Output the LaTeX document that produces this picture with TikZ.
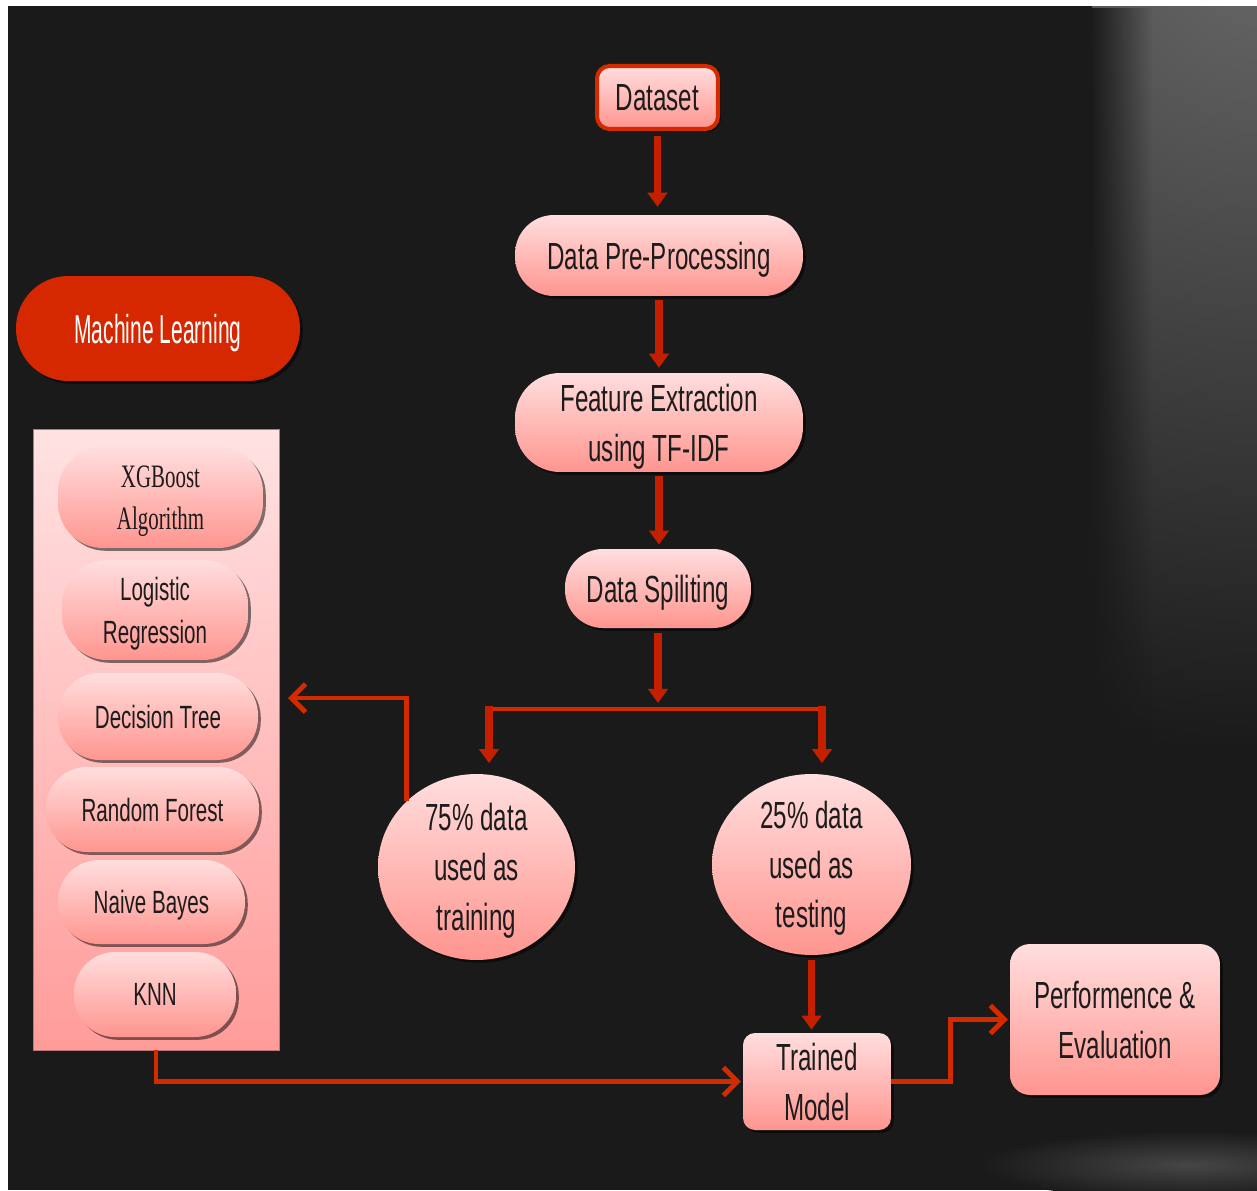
\documentclass[tikz,border=0pt]{standalone}
\usepackage{fontspec}
\setmainfont{Liberation Sans}[FakeStretch=0.64]
\newfontfamily\mlfont{Liberation Sans}[FakeStretch=0.52]
\newfontfamily\xgbfont{Liberation Serif}[FakeStretch=0.64]
\usetikzlibrary{arrows.meta,shadows,fadings,shapes.geometric}
\definecolor{bgc}{HTML}{1A1A1A}
\definecolor{arrowc}{HTML}{C42000}
\definecolor{linec}{HTML}{D42A00}
\definecolor{mlred}{HTML}{D62800}
\definecolor{pinktop}{HTML}{FFDEDE}
\definecolor{pinkbot}{HTML}{FF958F}
\definecolor{paneltop}{HTML}{FFE2E2}
\definecolor{panelbot}{HTML}{FF9C9A}
\definecolor{paneledge}{HTML}{B87878}
\definecolor{txt}{HTML}{1C1C1C}
\definecolor{spot}{HTML}{676767}
\definecolor{spotb}{HTML}{464646}
\tikzfading[name=fadeoutright, left color=transparent!0, right color=transparent!100]
\begin{document}
\begin{tikzpicture}[x=0.02cm,y=-0.02cm,
  every node/.style={text depth=0pt},
  pinkfill/.style={top color=pinktop,bottom color=pinkbot},
  shad/.style={drop shadow={shadow xshift=1.6pt,shadow yshift=-1.6pt,opacity=0.5,fill=black}},
  bigtext/.style={font=\fontsize{21.5}{28.3}\selectfont, text=txt, align=center},
  smalltext/.style={font=\fontsize{18.3}{24.4}\selectfont, text=txt, align=center},
  pill/.style={pinkfill, shad, inner sep=0pt},
  bigarrow/.style={draw=arrowc, line width=4.5pt, -{Triangle[width=11pt,length=8pt]}},
  thinarrow/.style={draw=linec, line width=2.8pt, -{Straight Barb[width=16pt,length=8pt]}},
  thinline/.style={draw=linec, line width=2.8pt},
]
\useasboundingbox (0,0) rectangle (1257,1190);
% background
\fill[white] (0,0) rectangle (1257,1190);
\fill[bgc] (8,6) rectangle (1257,1190);
\begin{scope}
  \clip (1092,6) rectangle (1257,1190);
  \shade[inner color=spot, outer color=bgc] (1257,-50) circle (800);
  \fill[bgc, path fading=fadeoutright] (1090,6) rectangle (1152,1190);
\end{scope}
\begin{scope}
  \clip (8,6) rectangle (1257,1190);
  \shade[inner color=spotb, outer color=bgc] (1190,1165) ellipse (210 and 34);
\end{scope}

% flow nodes
\node[pill, rounded corners=0.25cm, draw=linec, line width=2.3pt, minimum width=2.42cm, minimum height=1.26cm, bigtext] (dataset) at (657.5,97.5) {Dataset};
\node[pill, rounded corners=0.78cm, minimum width=5.76cm, minimum height=1.62cm, bigtext] (prep) at (659,255.5) {Data Pre-Processing};
\node[pill, rounded corners=0.9cm, minimum width=5.76cm, minimum height=1.98cm, bigtext] (feat) at (659,422.5) {Feature Extraction\\using TF-IDF};
\node[pill, rounded corners=0.76cm, minimum width=3.72cm, minimum height=1.58cm, bigtext] (split) at (658,588.5) {Data Spiliting};
\node[pill, ellipse, minimum width=3.94cm, minimum height=3.72cm, bigtext] (train) at (476.5,867) {75\% data\\used as\\training};
\node[pill, ellipse, minimum width=3.98cm, minimum height=3.62cm, bigtext] (test) at (811.5,864.5) {25\% data\\used as\\testing};
\node[pill, rounded corners=0.24cm, minimum width=2.96cm, minimum height=1.94cm, bigtext] (model) at (817,1081.5) {Trained\\Model};
\node[pill, rounded corners=0.4cm, minimum width=4.2cm, minimum height=3.02cm, bigtext] (perf) at (1115,1019.5) {Performence \&\\Evaluation};

% machine learning side
\node[fill=mlred, shad, rounded corners=1.04cm, inner sep=0pt, minimum width=5.68cm, minimum height=2.1cm, text=white, font=\mlfont\fontsize{23}{28}\selectfont] (ml) at (158,328.5) {Machine Learning};
\node[top color=paneltop, bottom color=panelbot, draw=paneledge, line width=0.5pt, inner sep=0pt, minimum width=4.92cm, minimum height=12.42cm] (panel) at (156,739.5) {};
\node[pill, rounded corners=0.9cm, minimum width=4.1cm, minimum height=2.02cm, smalltext, font=\xgbfont\fontsize{18.6}{24}\selectfont] (xgb) at (160.5,497.5) {XGBoost\\Algorithm};
\node[pill, rounded corners=0.9cm, minimum width=3.72cm, minimum height=2.0cm, smalltext] (logr) at (155,610) {Logistic\\Regression};
\node[pill, rounded corners=0.84cm, minimum width=4.0cm, minimum height=1.74cm, smalltext] (dtree) at (158,716.5) {Decision Tree};
\node[pill, rounded corners=0.82cm, minimum width=4.26cm, minimum height=1.7cm, smalltext] (rforest) at (152.5,809.5) {Random Forest};
\node[pill, rounded corners=0.82cm, minimum width=3.74cm, minimum height=1.68cm, smalltext] (nbayes) at (151.5,902) {Naive Bayes};
\node[pill, rounded corners=0.82cm, minimum width=3.24cm, minimum height=1.7cm, smalltext] (knn) at (155,994.5) {KNN};

% connectors
\coordinate (bj) at (657,709);
\coordinate (bl) at (489,709);
\coordinate (br) at (822,709);
\coordinate (pin) at (288,698);
\draw[bigarrow, shorten <=3pt, shorten >=4.5pt] (dataset.south) -- (dataset.south |- prep.north);
\draw[bigarrow, shorten <=2.3pt, shorten >=2.8pt] (prep.south) -- (prep.south |- feat.north);
\draw[bigarrow, shorten <=2.3pt, shorten >=2.3pt] (feat.south) -- (feat.south |- split.north);
\draw[bigarrow, shorten <=2.8pt, shorten >=3.4pt] (split.south) -- (split.south |- bj);
\draw[thinline] ([xshift=-1.2pt]bl) -- ([xshift=0.8pt]br);
\draw[bigarrow, shorten <=-1.5pt, shorten >=6pt] (bl) -- (bl |- train.north);
\draw[bigarrow, shorten <=-1.5pt, shorten >=6pt] (br) -- (br |- test.north);
\draw[thinarrow] (train.north west) |- (pin);
\draw[bigarrow, shorten <=2.8pt, shorten >=1.7pt] (test.south) -- (test.south |- model.north);
\draw[thinarrow, shorten >=1pt] (panel.south) |- (model.west);
\draw[thinarrow, shorten >=1pt] (model.east) -- ++(59,0) |- (perf.west);
\end{tikzpicture}
\end{document}
